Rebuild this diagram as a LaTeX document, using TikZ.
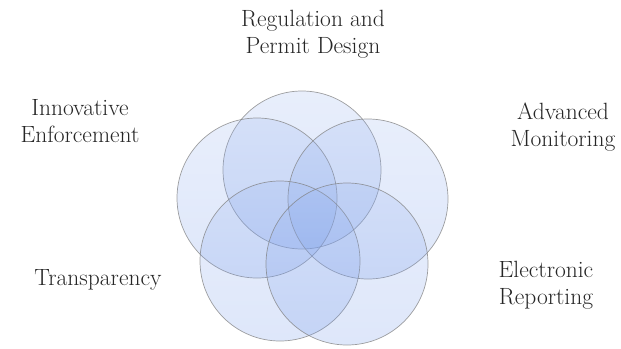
\documentclass[tikz,border=0pt]{standalone}
\usepackage{tikz}

\tikzset{
  ring/.style={draw=black!50, line width=0.7pt, top color=ringtop, bottom color=ringbot, fill opacity=0.22, draw opacity=0.75},
  lbl/.style={text=black!85, align=center, font=\fontsize{23.5}{27}\selectfont}
}
\definecolor{ringtop}{RGB}{150,178,238}
\definecolor{ringbot}{RGB}{105,145,232}

\begin{document}
\begin{tikzpicture}[x=1pt, y=-1pt]
                \useasboundingbox (0,0) rectangle (621,348);

                % Circles
                \shade[ring] (302,170) circle (79);
                \shade[ring] (257,198) circle (80);
                \shade[ring] (368,199) circle (80);
                \shade[ring] (280,261) circle (80);
                \shade[ring] (347,264) circle (81);

                % Labels
                \node[lbl] (regul) at (313,34) {Regulation and\\Permit Design};
                \node[lbl] (enforce) at (80,121) {Innovative\\Enforcement};
                \node[lbl] (monitor) at (563,127) {Advanced\\Monitoring};
                \node[lbl] (report) at (546,285) {Electronic\\Reporting};
                \node[lbl] (transp) at (98,280) {Transparency};
            \end{tikzpicture}
\end{document}
